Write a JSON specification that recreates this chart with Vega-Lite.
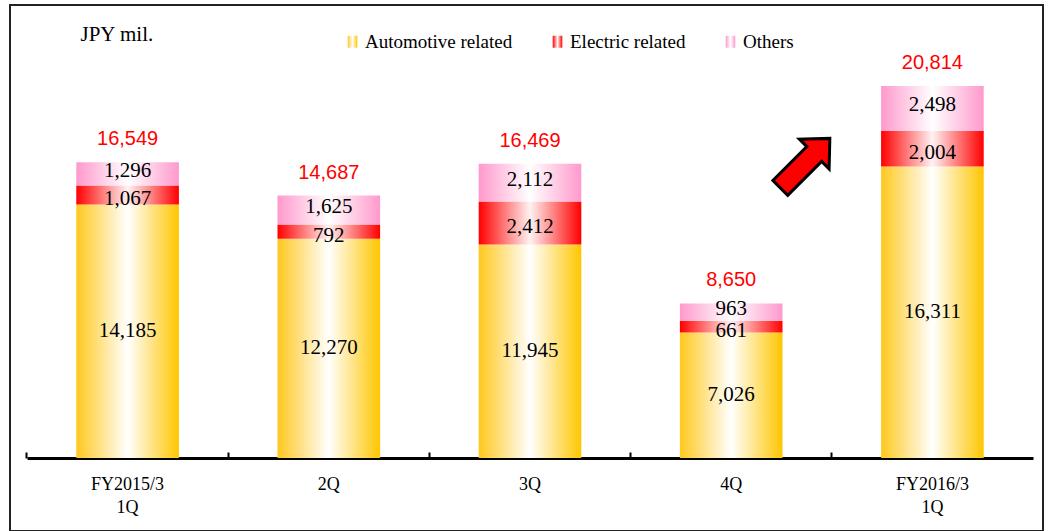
{
  "$schema": "https://vega.github.io/schema/vega-lite/v6.json",
  "width": 1033,
  "height": 526,
  "autosize": "none",
  "padding": {"left": 10, "top": 5, "right": 6, "bottom": 0},
  "background": "white",
  "config": {"view": {"stroke": "#222222", "strokeWidth": 2}},
  "datasets": {
    "sales": [
      {"quarter": "FY2015/3 1Q", "series": "Automotive related", "value": 14185},
      {"quarter": "FY2015/3 1Q", "series": "Electric related", "value": 1067},
      {"quarter": "FY2015/3 1Q", "series": "Others", "value": 1296},
      {"quarter": "2Q", "series": "Automotive related", "value": 12270},
      {"quarter": "2Q", "series": "Electric related", "value": 792},
      {"quarter": "2Q", "series": "Others", "value": 1625},
      {"quarter": "3Q", "series": "Automotive related", "value": 11945},
      {"quarter": "3Q", "series": "Electric related", "value": 2412},
      {"quarter": "3Q", "series": "Others", "value": 2112},
      {"quarter": "4Q", "series": "Automotive related", "value": 7026},
      {"quarter": "4Q", "series": "Electric related", "value": 661},
      {"quarter": "4Q", "series": "Others", "value": 963},
      {"quarter": "FY2016/3 1Q", "series": "Automotive related", "value": 16311},
      {"quarter": "FY2016/3 1Q", "series": "Electric related", "value": 2004},
      {"quarter": "FY2016/3 1Q", "series": "Others", "value": 2498}
    ],
    "totals": [
      {"quarter": "FY2015/3 1Q", "total": 16549},
      {"quarter": "2Q", "total": 14687},
      {"quarter": "3Q", "total": 16469},
      {"quarter": "4Q", "total": 8650},
      {"quarter": "FY2016/3 1Q", "total": 20814}
    ],
    "arrow": [{"quarter": "4Q", "level": 16500}]
  },
  "layer": [
    {
      "data": {"name": "sales"},
      "transform": [
        {"stack": "value", "groupby": ["quarter"], "sort": [{"field": "series", "order": "ascending"}], "as": ["v0", "v1"]},
        {"calculate": "(datum.v0 + datum.v1) / 2", "as": "mid"}
      ],
      "layer": [
        {
          "mark": {"type": "bar", "strokeWidth": 0},
          "encoding": {
            "x": {
              "field": "quarter", "type": "nominal", "sort": null,
              "scale": {"domain": ["FY2015/3 1Q", "2Q", "3Q", "4Q", "FY2016/3 1Q"], "range": [17, 1023], "paddingInner": 0.49, "paddingOuter": 0.245},
              "axis": {
                "orient": "bottom", "offset": -73, "title": null,
                "domain": true, "domainColor": "#000000", "domainWidth": 3,
                "ticks": false, "labelAngle": 0,
                "labelExpr": "split(datum.value, ' ')",
                "labelFont": "Liberation Serif", "labelFontSize": 18, "labelColor": "#000000",
                "labelBaseline": "top", "labelLineHeight": 23, "labelPadding": 17
              }
            },
            "y": {
              "field": "v0", "type": "quantitative",
              "scale": {"domain": [-4085, 25350], "nice": false, "zero": false},
              "axis": {
                "orient": "left", "domain": false, "ticks": false, "labels": false, "grid": false,
                "title": "JPY mil.", "titleAngle": 0, "titleX": 70, "titleY": 35,
                "titleAlign": "left", "titleBaseline": "alphabetic",
                "titleFont": "Liberation Serif", "titleFontSize": 21, "titleFontWeight": "normal", "titleColor": "#000000"
              }
            },
            "y2": {"field": "v1"},
            "fill": {
              "field": "series", "type": "nominal",
              "scale": {
                "domain": ["Automotive related", "Electric related", "Others"],
                "range": [
                  {"expr": "{gradient: 'linear', x1: 0, y1: 0, x2: 1, y2: 0, stops: [{offset: 0, color: '#FFC81E'}, {offset: 0.5, color: '#FFFFFF'}, {offset: 1, color: '#FFC600'}]}"},
                  {"expr": "{gradient: 'linear', x1: 0, y1: 0, x2: 1, y2: 0, stops: [{offset: 0, color: '#FF0000'}, {offset: 0.5, color: '#FFF2F2'}, {offset: 1, color: '#FF0000'}]}"},
                  {"expr": "{gradient: 'linear', x1: 0, y1: 0, x2: 1, y2: 0, stops: [{offset: 0, color: '#FF99CC'}, {offset: 0.5, color: '#FFFFFF'}, {offset: 1, color: '#FF99CC'}]}"}
                ]
              },
              "legend": {
                "orient": "none", "legendX": 333, "legendY": 27, "direction": "horizontal", "columns": 3,
                "title": null, "padding": 0,
                "symbolType": "M-0.8,-1H0.8V1H-0.8Z", "symbolSize": 144, "symbolStrokeWidth": 0, "symbolOpacity": 1,
                "labelFont": "Liberation Serif", "labelFontSize": 19, "labelColor": "#000000",
                "labelOffset": 3, "columnPadding": 35, "labelLimit": 0
              }
            }
          }
        },
        {
          "transform": [{"filter": "datum.series === 'Automotive related'"}],
          "mark": {"type": "text", "font": "Liberation Serif", "fontSize": 21, "color": "#000000", "baseline": "middle", "align": "center"},
          "encoding": {
            "x": {"field": "quarter", "type": "nominal", "sort": null},
            "y": {"field": "mid", "type": "quantitative"},
            "text": {"field": "value", "type": "quantitative", "format": ","}
          }
        },
        {
          "transform": [{"filter": "datum.series === 'Electric related'"}],
          "mark": {"type": "text", "font": "Liberation Serif", "fontSize": 21, "color": "#000000", "baseline": "middle", "align": "center", "dy": 4},
          "encoding": {
            "x": {"field": "quarter", "type": "nominal", "sort": null},
            "y": {"field": "mid", "type": "quantitative"},
            "text": {"field": "value", "type": "quantitative", "format": ","}
          }
        },
        {
          "transform": [{"filter": "datum.series === 'Others'"}],
          "mark": {"type": "text", "font": "Liberation Serif", "fontSize": 21, "color": "#000000", "baseline": "middle", "align": "center", "dy": -3},
          "encoding": {
            "x": {"field": "quarter", "type": "nominal", "sort": null},
            "y": {"field": "mid", "type": "quantitative"},
            "text": {"field": "value", "type": "quantitative", "format": ","}
          }
        }
      ]
    },
    {
      "data": {"name": "totals"},
      "mark": {"type": "text", "font": "Liberation Sans", "fontSize": 20, "color": "#FF0000", "baseline": "alphabetic", "align": "center", "dy": -17},
      "encoding": {
        "x": {
          "field": "quarter", "type": "nominal", "sort": null,
          "axis": {
            "orient": "bottom", "offset": -73, "title": null, "domain": false, "labels": false, "grid": false,
            "ticks": true, "tickSize": -6, "tickWidth": 2, "tickColor": "#000000", "bandPosition": -0.4804
          }
        },
        "y": {"field": "total", "type": "quantitative"},
        "text": {"field": "total", "type": "quantitative", "format": ","}
      }
    },
    {
      "data": {"name": "arrow"},
      "mark": {"type": "point", "shape": "M0,-1L0.6,-0.37L0.3,-0.37L0.3,1L-0.3,1L-0.3,-0.37L-0.6,-0.37Z", "size": 4900, "angle": 45, "filled": true, "fill": "#FF0000", "stroke": "#000000", "strokeWidth": 3, "opacity": 1},
      "encoding": {
        "x": {"field": "quarter", "type": "nominal", "sort": null, "bandPosition": 1.22, "axis": null},
        "y": {"field": "level", "type": "quantitative"}
      }
    }
  ],
  "resolve": {"axis": {"x": "independent"}}
}
